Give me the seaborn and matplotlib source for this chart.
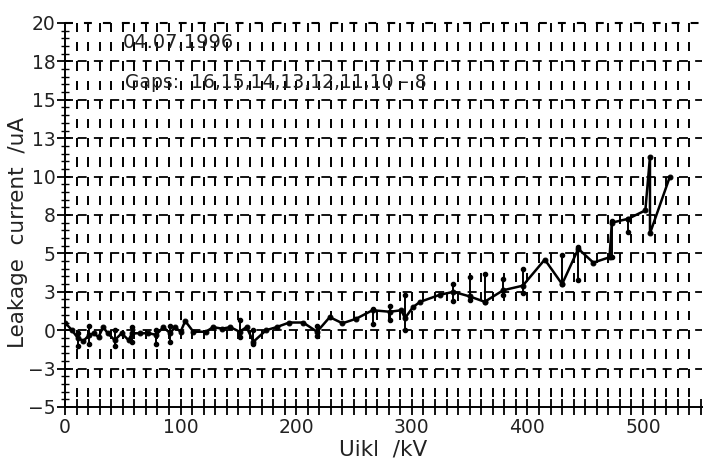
import numpy as np
import pandas as pd
import matplotlib
matplotlib.use("Agg")
import matplotlib.pyplot as plt
import seaborn as sns

# ---- data ----
volt = [0, 6, 11, 16, 21, 25, 29, 33, 37, 43, 49, 55, 58, 65, 72, 79, 85, 91, 95,
        100, 104, 111, 122, 128, 136, 143, 151, 157, 163, 174, 183, 194, 206, 218,
        229, 240, 252, 266, 281, 291, 294, 301, 307, 324, 336, 350, 363, 379, 396,
        415, 430, 444, 457, 471, 473, 487, 502, 506, 506, 523]
current = [0.5, 0.0, -0.5, -0.7, -0.3, -0.2, -0.45, 0.2, -0.2, -0.65, -0.2, -0.65,
           -0.2, -0.2, -0.2, -0.3, 0.2, -0.2, 0.2, -0.1, 0.6, -0.1, -0.1, 0.2, 0.1,
           0.2, -0.1, 0.2, -0.75, 0.0, 0.2, 0.5, 0.5, -0.1, 0.85, 0.45, 0.75, 1.3,
           1.2, 1.3, 0.78, 1.5, 1.84, 2.3, 2.5, 2.2, 1.85, 2.6, 2.9, 4.6, 3.0, 5.3,
           4.4, 4.75, 7.0, 7.25, 7.8, 11.3, 6.3, 9.95]

err_volt = [11, 21, 43, 58, 79, 91, 151, 163, 218, 266, 281, 294, 336, 350, 363,
            379, 396, 430, 444, 473, 487]
err_lo = [-1.0, -0.9, -1.0, -0.8, -0.9, -0.8, -0.43, -0.9, -0.35, 0.43, 0.65, 0.0,
          1.9, 1.95, 1.84, 2.27, 2.4, 3.0, 3.25, 4.76, 6.4]
err_hi = [-0.2, 0.3, 0.0, 0.2, 0.0, 0.3, 0.65, 0.0, 0.3, 1.4, 1.6, 2.27, 3.0, 3.46,
          3.68, 3.35, 4.0, 4.87, 5.4, 7.1, 7.25]

y_tick_pos = [-5, -2.5, 0, 2.5, 5, 7.5, 10, 12.5, 15, 17.5, 20]
y_tick_labels = ["\u22125", "\u22123", "0", "3", "5", "8", "10", "13", "15", "18", "20"]
x_tick_pos = [0, 100, 200, 300, 400, 500]
x_tick_labels = ["0", "100", "200", "300", "400", "500"]

date_text = "04.07.1996"
gaps_text = "Gaps:  16,15,14,13,12,11,10 \u2013 8"

# ---- figure ----
sns.set_style("white")
plt.rcParams["font.family"] = ["DejaVu Sans"]

fig = plt.figure(figsize=(7.05, 4.59), dpi=100)
ax = fig.add_axes([65 / 705, 52 / 459, 637 / 705, 384 / 459])
ax.set_xlim(0, 551)
ax.set_ylim(-5, 20)

# grid imitation: short vertical dashes every 10 kV
gx = np.arange(10, 550, 10)
ends = np.arange(-3, 17) * 1.25
X, E = np.meshgrid(gx, ends)
ax.vlines(X.ravel(), E.ravel() - 0.6, E.ravel(), colors="black", lw=1.4, zorder=1)
# horizontal broken lines at labelled levels
ax.hlines(y_tick_pos[1:-1], 0, 551, colors="black", lw=1.3,
          linestyles=[(2, (5, 4))], zorder=1)
# dashed top line
ax.hlines([20], 0, 551, colors="black", lw=1.5, linestyles=[(0, (3.8, 5.3))],
          zorder=1, clip_on=False)

# error bars
ax.vlines(err_volt, err_lo, err_hi, colors="black", lw=1.4, zorder=2)
ax.scatter(err_volt + err_volt, err_lo + err_hi, s=9, color="black", zorder=3)

df = pd.DataFrame({"volt": volt, "current": current})
sns.lineplot(data=df, x="volt", y="current", sort=False, estimator=None,
             color="black", lw=1.8, marker="o", markersize=3.5,
             markeredgecolor="black", ax=ax, zorder=4)

# spines
for s in ["top", "right"]:
    ax.spines[s].set_visible(False)
for s in ["left", "bottom"]:
    ax.spines[s].set_color("black")
    ax.spines[s].set_linewidth(1.4)

ax.set_xticks(x_tick_pos)
ax.set_xticklabels(x_tick_labels)
ax.set_xticks(np.arange(10, 551, 10), minor=True)
ax.set_yticks(y_tick_pos)
ax.set_yticklabels(y_tick_labels)
ax.set_yticks(np.arange(-5, 20.01, 0.5), minor=True)

ax.tick_params(axis="x", which="both", bottom=True, direction="inout", length=12,
               width=1.3, colors="black", labelsize=13.5, pad=2)
ax.tick_params(axis="y", which="major", left=True, direction="inout", length=12,
               width=1.3, colors="black", labelsize=13.5, pad=1)
ax.tick_params(axis="y", which="minor", left=True, direction="inout", length=6,
               width=1.0, colors="black")
for lab in ax.get_xticklabels() + ax.get_yticklabels():
    lab.set_color("#222222")

ax.set_xlabel("Uikl  /kV", fontsize=15.5, color="#222222", labelpad=2)
ax.set_ylabel("Leakage  current  /uA", fontsize=15.5, color="#222222")
ax.yaxis.set_label_coords(-0.058, 0.455)

ax.text(50, 18.7, date_text, fontsize=14, color="#222222", va="center", ha="left",
        zorder=5)
ax.text(52, 16.1, gaps_text, fontsize=13.5, color="#222222", va="center", ha="left",
        zorder=5)

fig.savefig("out.png", dpi=100, facecolor="white")
